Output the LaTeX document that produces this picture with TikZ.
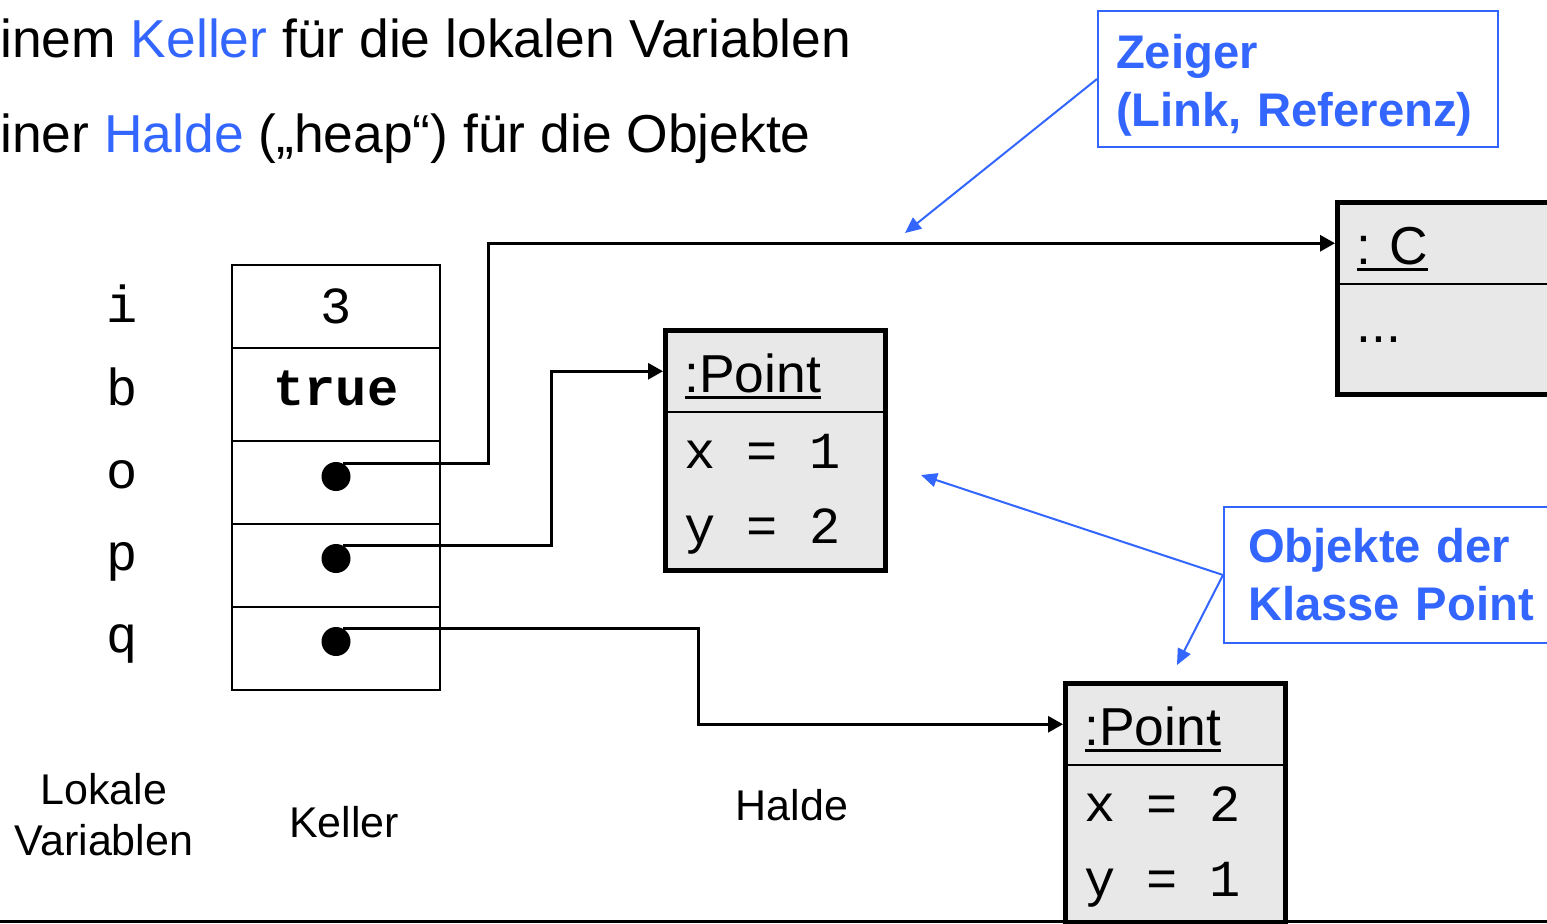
\documentclass[tikz,border=0pt]{standalone}
\usepackage{fontspec}
\setmainfont{Liberation Sans}
\setmonofont{Liberation Mono}
\usetikzlibrary{positioning,arrows.meta}

\definecolor{noteblue}{RGB}{51,102,255}
\definecolor{objgray}{RGB}{232,232,232}

\newcommand{\slidefont}{\fontsize{26.7}{32}\selectfont}
\newcommand{\cellfont}{\fontsize{26}{37.5}\selectfont\ttfamily}
\newcommand{\notefont}{\fontsize{23.6}{29}\selectfont\bfseries}
\newcommand{\areafont}{\fontsize{21.5}{25.5}\selectfont}
\newcommand{\objname}[1]{\setbox0=\hbox{#1}\rlap{\rule[-3.5pt]{\wd0}{1.6pt}}\box0}
\newcommand{\attrs}[4]{\rule{0pt}{20pt}#1\hspace{0.6em}=\hspace{0.6em}#2\\#3\hspace{0.6em}=\hspace{0.6em}#4}

\begin{document}
\begin{tikzpicture}[x=0.5pt, y=-0.5pt, >={Triangle[length=7.5pt, width=8pt]},
  cell/.style={draw, line width=1pt, minimum width=104pt, minimum height=41.5pt, inner sep=0pt, outer sep=0pt, font=\cellfont},
  varname/.style={anchor=base, inner sep=0pt, font=\cellfont},
  refdot/.style={circle, fill, minimum size=14.5pt, inner sep=0pt},
  ptr/.style={->, line width=1.5pt, shorten >=1.25pt},
  objhead/.style={fill=objgray, minimum height=40.75pt, text width=91pt, inner xsep=9.5pt, inner ysep=0pt, outer sep=0pt, text height=21pt, text depth=0pt, align=left, font=\slidefont},
  objbody/.style={fill=objgray, minimum height=79.25pt, text width=91pt, inner xsep=9.5pt, inner ysep=0pt, outer sep=0pt, align=left, font=\cellfont},
  objframe/.style={draw, line width=2.5pt},
  note/.style={draw=noteblue, line width=1pt, text=noteblue, anchor=north west, align=left, inner ysep=0pt, minimum height=68pt, font=\notefont},
  noteptr/.style={->, >={Triangle[length=8pt, width=7pt]}, draw=noteblue, line width=1pt},
  areaname/.style={inner sep=0pt, font=\areafont}]

  \useasboundingbox (0,0) rectangle (1547,923);
  \fill[white] (0,0) rectangle (1547,923);
  \clip (0,0) rectangle (1547,923);

  \node[anchor=base west, inner sep=0pt, font=\slidefont] (kellerLine) at (0,57) {inem \textcolor{noteblue}{Keller} für die lokalen Variablen};
  \node[anchor=base west, inner sep=0pt, font=\slidefont] (haldeLine) at (0,152) {iner \textcolor{noteblue}{Halde} („heap“) für die Objekte};

  \node[cell] (ci) at (336,306.5) {3};
  \node[cell, minimum height=46.5pt, text height=10.5pt, text depth=0pt, below=0pt of ci] (cb) {\textbf{true}};
  \node[cell, below=0pt of cb] (co) {};
  \node[cell, below=0pt of co] (cp) {};
  \node[cell, below=0pt of cp] (cq) {};

  \node[varname] (vi) at (122,322) {i};
  \node[varname] (vb) at (122,405) {b};
  \node[varname] (vo) at (122,488) {o};
  \node[varname] (vp) at (122,570) {p};
  \node[varname] (vq) at (122,652) {q};

  \node[refdot, yshift=3pt] (dO) at (co) {};
  \node[refdot, yshift=3.5pt] (dP) at (cp) {};
  \node[refdot, yshift=3.5pt] (dQ) at (cq) {};

  \node[objhead, anchor=north west] (pOneHead) at (665.5,330.5) {\objname{:Point}};
  \node[objbody, below=0pt of pOneHead] (pOneBody) {\attrs{x}{1}{y}{2}};
  \draw[objframe] (pOneHead.north west) rectangle (pOneBody.south east);
  \draw[line width=1pt] (pOneHead.south west) -- (pOneHead.south east);

  \node[objhead, anchor=north west] (pTwoHead) at (1065.5,683.5) {\objname{:Point}};
  \node[objbody, below=0pt of pTwoHead] (pTwoBody) {\attrs{x}{2}{y}{1}};
  \draw[objframe] (pTwoHead.north west) rectangle (pTwoBody.south east);
  \draw[line width=1pt] (pTwoHead.south west) -- (pTwoHead.south east);

  \node[objhead, anchor=north west, text width=140pt] (cHead) at (1337.5,202.5) {\objname{:\ C}};
  \node[objbody, below=0pt of cHead, text width=140pt, minimum height=55.25pt, font=\slidefont] (cBody) {...};
  \draw[objframe] (cHead.north west) rectangle (cBody.south east);
  \draw[line width=1pt] (cHead.south west) -- (cHead.south east);

  \coordinate (oBend) at (488,243);
  \coordinate (pBend) at (551,371);
  \coordinate (qBend) at (698,723);
  \draw[ptr] (dO.60) -| (oBend |- cHead.west) -- (cHead.west);
  \draw[ptr] (dP.60) -| (pBend |- pOneHead.west) -- (pOneHead.west);
  \draw[ptr] (dQ.60) -| (qBend |- pTwoHead.west) -- (pTwoHead.west);

  \node[note, text width=182pt, inner xsep=9pt] (zeigerNote) at (1097,10) {\rule{0pt}{23pt}Zeiger\\(Link, Referenz)};
  \node[note, text width=150pt, inner xsep=12pt] (objNote) at (1223,506) {Objekte der\\Klasse Point};

  \coordinate (zeigerTip) at (905,233);
  \coordinate (pointTipA) at (921,475);
  \coordinate (pointTipB) at (1177,665);
  \draw[noteptr] (zeigerNote.west) -- (zeigerTip);
  \draw[noteptr] (objNote.west) -- (pointTipA);
  \draw[noteptr] (objNote.west) -- (pointTipB);

  \node[areaname, align=center] (lokaleName) at (104,814.5) {Lokale\\Variablen};
  \node[areaname, anchor=base] (kellerName) at (344,837) {Keller};
  \node[areaname, anchor=base] (haldeName) at (792,820) {Halde};

  \draw[line width=1.5pt] (0,921) -- (1547,921);
\end{tikzpicture}
\end{document}
